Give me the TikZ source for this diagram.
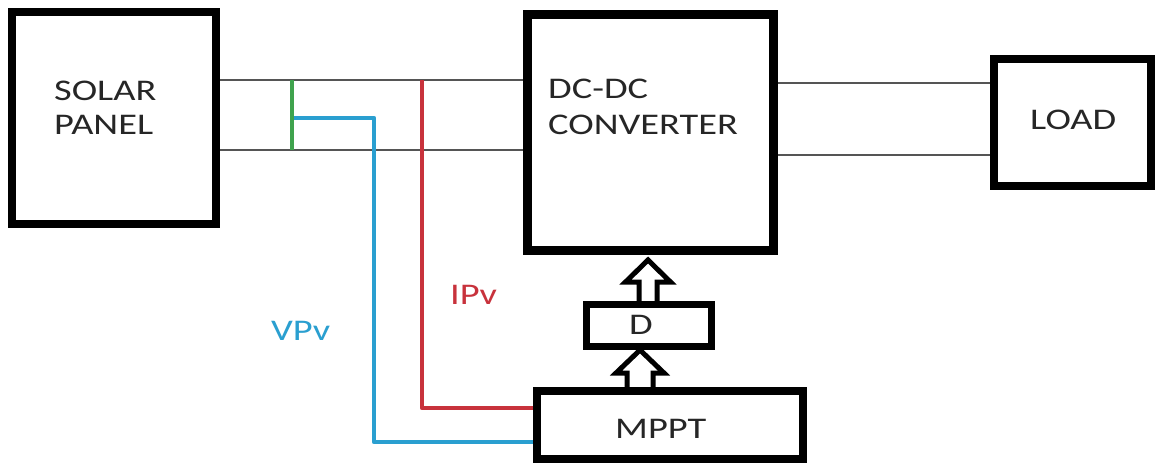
\documentclass[tikz,border=0pt]{standalone}
\usepackage{fontspec}
\setmainfont{Carlito}[FakeStretch=1.28]
\definecolor{wiregray}{HTML}{555555}
\definecolor{txt}{HTML}{262626}
\definecolor{vgreen}{HTML}{3FA34D}
\definecolor{vblue}{HTML}{2A9FD0}
\definecolor{vred}{HTML}{C8323C}
\pgfdeclarelayer{bg}
\pgfdeclarelayer{paper}
\pgfsetlayers{paper,bg,main}
\begin{document}
\begin{tikzpicture}[x=1pt,y=-1pt,
  blk/.style={draw=black, line width=8pt, fill=white, inner sep=0pt, rectangle},
  wire/.style={draw=wiregray, line width=1.6pt},
  sig/.style={line width=4.5pt, line join=round},
  lbl/.style={anchor=base west, inner sep=0pt, font=\fontsize{30}{36}\selectfont, text=txt},
  hollow/.style={draw=black, line width=5pt, fill=white, line join=miter}]
\useasboundingbox (0,0) rectangle (1158,464);
\begin{pgfonlayer}{paper}
  \fill[white] (0,0) rectangle (1158,464);
\end{pgfonlayer}

% blocks
\node[blk, minimum width=204pt, minimum height=212pt] (solar) at (114,118) {};
\node[blk, line width=9pt, minimum width=246pt, minimum height=236pt] (dcdc) at (650.5,132.5) {};
\node[blk, minimum width=157pt, minimum height=127pt] (load) at (1072.5,122.5) {};
\node[blk, line width=7pt, minimum width=125pt, minimum height=42pt] (d) at (649,325.5) {};
\node[blk, minimum width=266pt, minimum height=68pt] (mppt) at (670,425) {};

% texts
\node[lbl] (t1) at (54,100) {SOLAR};
\node[lbl] (t2) at (54,134) {PANEL};
\node[lbl] (t3) at (548,98) {DC-DC};
\node[lbl] (t4) at (548,134) {CONVERTER};
\node[lbl] (t5) at (1030,129) {LOAD};
\node[lbl] (t6) at (629,334) {D};
\node[lbl] (t7) at (615,438) {MPPT};
\node[lbl, text=vblue] (t8) at (271,340) {VPv};
\node[lbl, text=vred] (t9) at (450,304) {IPv};

% junction coordinates
\coordinate (g1) at (292,80);
\coordinate (g2) at (292,150);
\coordinate (bj) at (292,118);
\coordinate (bc) at (374,118);
\coordinate (bb) at (374,442);
\coordinate (rt) at (422,80);
\coordinate (rb) at (422,408);

\begin{pgfonlayer}{bg}
  % power wires
  \draw[wire] (solar.center |- 0,80) -- (dcdc.center |- 0,80);
  \draw[wire] (solar.center |- 0,150) -- (dcdc.center |- 0,150);
  \draw[wire] (dcdc.center |- 0,83) -- (load.center |- 0,83);
  \draw[wire] (dcdc.center |- 0,155) -- (load.center |- 0,155);
  % sense lines
  \draw[sig, draw=vblue] (bj) -- (bc) -- (bb) -- (mppt.center |- bb);
  \draw[sig, draw=vgreen] (g1) -- (g2);
  \draw[sig, draw=vred] (rt) -- (rb) -- (mppt.center |- rb);
  % hollow arrows
  \draw[hollow] (639,306) -- (639,282) -- (625.5,282) -- (648,260) -- (670.5,282) -- (657,282) -- (657,306);
  \draw[hollow] (627,392) -- (627,373) -- (616,373) -- (640,350) -- (664,373) -- (653,373) -- (653,392);
\end{pgfonlayer}
\end{tikzpicture}
\end{document}
